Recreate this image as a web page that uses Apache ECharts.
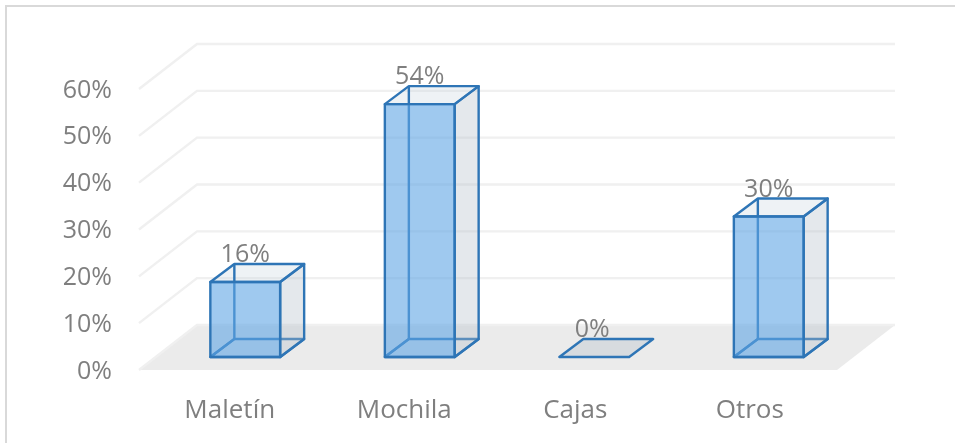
<!DOCTYPE html>
<html>
<head>
<meta charset="utf-8">
<style>html,body{margin:0;padding:0;background:#fff}#c{width:955px;height:443px}</style>
<script src="https://cdn.jsdelivr.net/npm/echarts@6/dist/echarts.min.js"></script>
</head>
<body>
<div id="c"></div>
<script>
var categories = ['Maletín', 'Mochila', 'Cajas', 'Otros'];
var values = [0.16, 0.54, 0, 0.30];
var gridTicks = [0, 0.1, 0.2, 0.3, 0.4, 0.5, 0.6];

var FONT = '"Open Sans", sans-serif';
var TXT = '#7f7f7f';
var WALL_DX = 58, WALL_DY = -45;
var BAR_DX = 19, BAR_DY = -13;
var DEPTH_X = 24, DEPTH_Y = -18;
var LINE = '#2e75b6';
var LW = 2.4;

var chart = echarts.init(document.getElementById('c'));

function poly(points, fill, stroke, lw, z2) {
  return {
    type: 'polygon', z2: z2 || 0,
    shape: { points: points },
    style: { fill: fill, stroke: stroke || null, lineWidth: lw || 0, lineJoin: 'round' }
  };
}

function renderFloor(params, api) {
  var cs = params.coordSys;
  var y = api.coord([0, 0])[1];
  var l = cs.x, r = cs.x + cs.width;
  return poly([[l, y], [r, y], [r + WALL_DX, y + WALL_DY], [l + WALL_DX, y + WALL_DY]], '#ebebeb');
}

function renderGrid(params, api) {
  var cs = params.coordSys;
  var y = api.coord([0, api.value(1)])[1];
  var l = cs.x, r = cs.x + cs.width;
  return {
    type: 'polyline',
    shape: { points: [[l, y], [l + WALL_DX, y + WALL_DY], [r + WALL_DX, y + WALL_DY]] },
    style: { fill: null, stroke: '#f0f0f0', lineWidth: 2.4 }
  };
}

function renderBar(params, api) {
  var v = api.value(1);
  var top = api.coord([api.value(0), v]);
  var base = api.coord([api.value(0), 0]);
  var w = api.size([1, 0])[0] * 0.4;
  var x0 = top[0] + BAR_DX - w / 2, x1 = x0 + w;
  var yt = top[1] + BAR_DY, yb = base[1] + BAR_DY;
  var dx = DEPTH_X, dy = DEPTH_Y;
  var kids = [];
  kids.push(poly([[x0, yb], [x1, yb], [x1 + dx, yb + dy], [x0 + dx, yb + dy]],
    v > 0 ? 'rgba(0,0,0,0)' : 'rgba(177,190,200,0.35)', LINE, LW, 1));
  if (v > 0) {
    kids.push(poly([[x1, yb], [x1 + dx, yb + dy], [x1 + dx, yt + dy], [x1, yt]],
      'rgba(177,190,200,0.35)', LINE, LW, 2));
    kids.push(poly([[x0, yt], [x1, yt], [x1 + dx, yt + dy], [x0 + dx, yt + dy]],
      'rgba(198,212,222,0.3)', LINE, LW, 3));
    kids.push({
      type: 'polyline', z2: 3,
      shape: { points: [[x0 + dx, yt + dy], [x0 + dx, yb + dy], [x0, yb]] },
      style: { fill: null, stroke: LINE, lineWidth: LW }
    });
    kids.push({
      type: 'rect', z2: 4,
      shape: { x: x0, y: yt, width: w, height: yb - yt },
      style: { fill: 'rgba(95,165,228,0.6)', stroke: LINE, lineWidth: LW, lineJoin: 'round' }
    });
  }
  kids.push({
    type: 'text', z2: 5,
    style: {
      x: (x0 + x1) / 2 - (v > 0 ? 0 : 2), y: yt - 27,
      text: Math.round(v * 100) + '%',
      fill: TXT, font: '25px ' + FONT, align: 'center', verticalAlign: 'middle'
    }
  });
  return { type: 'group', children: kids };
}

chart.setOption({
  animation: false,
  backgroundColor: '#fff',
  graphic: [{
    type: 'rect', silent: true, z: -10,
    shape: { x: 6, y: 6, width: 1000, height: 1000 },
    style: { fill: null, stroke: '#d9d9d9', lineWidth: 2 }
  }],
  grid: { left: 139, top: 89, width: 698, bottom: 73 },
  xAxis: {
    type: 'category',
    data: categories,
    axisLine: { show: false },
    axisTick: { show: false },
    axisLabel: {
      color: TXT, fontFamily: FONT, fontSize: 26, margin: 28,
      interval: 0, hideOverlap: false,
      formatter: function (name) {
        return (categories.indexOf(name) < 2 ? '{s|' : '{n|') + name + '}';
      },
      rich: {
        s: { color: TXT, fontFamily: FONT, fontSize: 26, padding: [0, 0, 0, 7] },
        n: { color: TXT, fontFamily: FONT, fontSize: 26 }
      }
    }
  },
  yAxis: {
    type: 'value', min: 0, max: 0.6, interval: 0.1,
    axisLine: { show: false },
    axisTick: { show: false },
    splitLine: { show: false },
    axisLabel: {
      color: TXT, fontFamily: FONT, fontSize: 25, margin: 27,
      verticalAlign: 'top', padding: [-11, 0, 0, 0],
      formatter: function (v) { return Math.round(v * 100) + '%'; }
    }
  },
  series: [
    { type: 'custom', name: 'floor', data: [[0, 0]], renderItem: renderFloor, clip: false, silent: true, z: 1, encode: { x: 0, y: 1 } },
    { type: 'custom', name: 'grid', data: gridTicks.map(function (t) { return [0, t]; }), renderItem: renderGrid, clip: false, silent: true, z: 1, encode: { x: 0, y: 1 } },
    { type: 'custom', name: 'bars', data: values.map(function (v, i) { return [i, v]; }), renderItem: renderBar, clip: false, z: 2, encode: { x: 0, y: 1 } }
  ]
});
</script>
</body>
</html>
